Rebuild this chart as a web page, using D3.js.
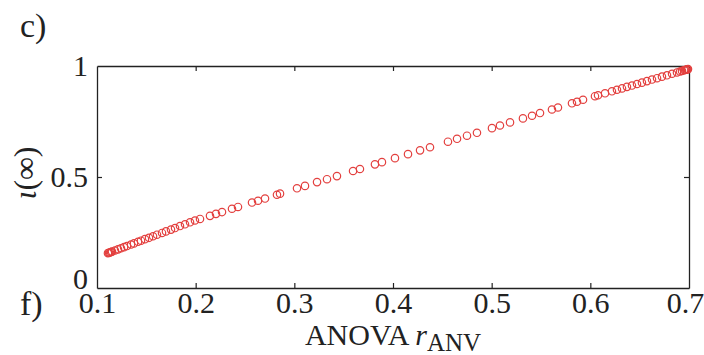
<!DOCTYPE html>
<html>
<head>
<meta charset="utf-8">
<script src="https://cdn.jsdelivr.net/npm/d3@7"></script>
<style>
  body { margin: 0; background: #fff; }
  text { font-family: "Liberation Serif", "DejaVu Serif", serif; }
</style>
</head>
<body>
<div id="chart"></div>
<script>
// Chart size
const width = 704;
const height = 355;
const margin = { top: 66, right: 15, bottom: 67, left: 97 };

// Data
const rANV = [0.1111, 0.1122, 0.1132, 0.1142, 0.1152, 0.1182, 0.1213, 0.1243, 0.1274, 0.1304,
  0.1345, 0.1375, 0.1416, 0.1446, 0.1486, 0.1527, 0.1568, 0.1608, 0.1659, 0.1699,
  0.1750, 0.1791, 0.1841, 0.1892, 0.1943, 0.1993, 0.2044, 0.2145, 0.2206, 0.2267,
  0.2368, 0.2429, 0.2571, 0.2632, 0.2703, 0.2824, 0.2855, 0.3027, 0.3108, 0.3230,
  0.3331, 0.3432, 0.3595, 0.3665, 0.3817, 0.3888, 0.4020, 0.4152, 0.4274, 0.4375,
  0.4557, 0.4649, 0.4750, 0.4851, 0.5003, 0.5084, 0.5186, 0.5317, 0.5409, 0.5490,
  0.5611, 0.5672, 0.5814, 0.5865, 0.5926, 0.6047, 0.6078, 0.6149, 0.6219, 0.6270,
  0.6321, 0.6371, 0.6422, 0.6473, 0.6523, 0.6574, 0.6625, 0.6676, 0.6726, 0.6777,
  0.6828, 0.6878, 0.6909, 0.6929, 0.6950, 0.6960, 0.6970, 0.6980, 0.6985, 0.6990];
const iotaInf = [0.157, 0.159, 0.160, 0.162, 0.164, 0.169, 0.174, 0.179, 0.184, 0.189,
  0.196, 0.201, 0.208, 0.213, 0.220, 0.226, 0.233, 0.240, 0.248, 0.255,
  0.263, 0.270, 0.279, 0.287, 0.296, 0.304, 0.311, 0.325, 0.334, 0.342,
  0.357, 0.365, 0.385, 0.393, 0.403, 0.420, 0.425, 0.449, 0.460, 0.477,
  0.490, 0.504, 0.527, 0.536, 0.557, 0.567, 0.585, 0.603, 0.620, 0.634,
  0.659, 0.672, 0.686, 0.699, 0.720, 0.732, 0.746, 0.764, 0.776, 0.788,
  0.804, 0.813, 0.832, 0.839, 0.848, 0.864, 0.868, 0.877, 0.886, 0.893,
  0.899, 0.906, 0.912, 0.919, 0.925, 0.932, 0.939, 0.945, 0.952, 0.958,
  0.965, 0.971, 0.975, 0.978, 0.981, 0.982, 0.983, 0.985, 0.985, 0.986];
const xTicks = [0.1, 0.2, 0.3, 0.4, 0.5, 0.6, 0.7];
const yTicks = [0, 0.5, 1];

const points = rANV.map((x, i) => ({ x: x, y: iotaInf[i] }));

const svg = d3.select("#chart")
  .append("svg")
  .attr("width", width)
  .attr("height", height);

const innerW = width - margin.left - margin.right;
const innerH = height - margin.top - margin.bottom;

const g = svg.append("g")
  .attr("transform", `translate(${margin.left}, ${margin.top})`);

// Scales
const xScale = d3.scaleLinear().domain([0.1, 0.7]).range([0, innerW]);
const yScale = d3.scaleLinear().domain([0, 1]).range([innerH, 0]);

// Axes, ticks pointing inward on all four sides
const fmt = d => d === 0 ? "0" : d === 1 ? "1" : String(d);

const xBottom = g.append("g")
  .attr("transform", `translate(0, ${innerH})`)
  .call(d3.axisBottom(xScale).tickValues(xTicks).tickFormat(fmt).tickSizeInner(-5).tickSizeOuter(0).tickPadding(4));
const xTop = g.append("g")
  .call(d3.axisTop(xScale).tickValues(xTicks).tickFormat("").tickSizeInner(-5).tickSizeOuter(0));
const yLeft = g.append("g")
  .call(d3.axisLeft(yScale).tickValues(yTicks).tickFormat(fmt).tickSizeInner(-5).tickSizeOuter(0).tickPadding(9));
const yRight = g.append("g")
  .attr("transform", `translate(${innerW}, 0)`)
  .call(d3.axisRight(yScale).tickValues(yTicks).tickFormat("").tickSizeInner(-5).tickSizeOuter(0));

[xBottom, xTop, yLeft, yRight].forEach(a => {
  a.select(".domain").attr("stroke", "#222").attr("stroke-width", 1.3);
  a.selectAll(".tick line").attr("stroke", "#222").attr("stroke-width", 1.2);
  a.selectAll(".tick text")
    .style("font-family", "'Liberation Serif', serif")
    .style("font-size", "30px")
    .attr("fill", "#222");
});
// the "0" sits a little higher than the axis in the original
yLeft.selectAll(".tick text").filter(d => d === 0).attr("dy", "0.02em");
// keep the last x label inside the page
xBottom.selectAll(".tick text").filter(d => d === 0.7).attr("dx", -4);
// drop the ticks sitting on the frame corners
xBottom.selectAll(".tick line").filter(d => d === 0.1 || d === 0.7).remove();
xTop.selectAll(".tick line").filter(d => d === 0.1 || d === 0.7).remove();
yLeft.selectAll(".tick line").filter(d => d === 0 || d === 1).remove();
yRight.selectAll(".tick line").filter(d => d === 0 || d === 1).remove();

// Points
g.append("g")
  .selectAll("circle")
  .data(points)
  .join("circle")
  .attr("cx", d => xScale(d.x))
  .attr("cy", d => yScale(d.y))
  .attr("r", 3.7)
  .attr("fill", "none")
  .attr("stroke", "#e3403f")
  .attr("stroke-width", 1.2);

// X label
const xl = svg.append("text")
  .attr("x", margin.left + innerW / 2)
  .attr("y", 345)
  .attr("text-anchor", "middle")
  .style("font-size", "30px")
  .attr("fill", "#222");
xl.append("tspan").text("ANOVA ");
xl.append("tspan").style("font-style", "italic").text("r");
xl.append("tspan").attr("dy", 6).style("font-size", "25px").text("ANV");

// Y label
svg.append("text")
  .attr("transform", `translate(36, ${margin.top + innerH / 2 - 4}) rotate(-90)`)
  .attr("text-anchor", "middle")
  .style("font-size", "32px")
  .attr("fill", "#222")
  .html('<tspan font-style="italic">ι</tspan>(∞)');

// Panel letters
svg.append("text")
  .attr("x", 20).attr("y", 37)
  .style("font-size", "34px")
  .attr("fill", "#222")
  .text("c)");

svg.append("text")
  .attr("x", 20).attr("y", 315)
  .style("font-size", "34px")
  .attr("fill", "#222")
  .text("f)");
</script>
</body>
</html>
